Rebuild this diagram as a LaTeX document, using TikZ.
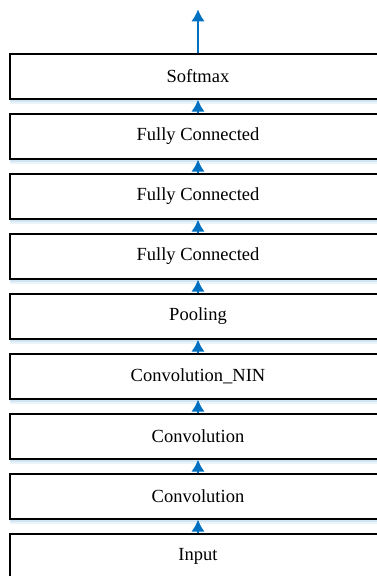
\documentclass[tikz,border=0pt]{standalone}
\usepackage{fontspec}
\setmainfont{Liberation Serif}
\usetikzlibrary{arrows.meta,calc,shadows}
\definecolor{arrowblue}{RGB}{0,112,192}
\tikzset{layerbox/.style={draw=black, fill=white, rectangle, line width=1.3pt, node distance=60pt, minimum width=376pt, minimum height=45pt, inner sep=0pt, text centered, font=\fontsize{18.5pt}{22pt}\selectfont, drop shadow={shadow xshift=0pt, shadow yshift=-5pt, fill=arrowblue!10, opacity=0.8}, drop shadow={shadow xshift=0pt, shadow yshift=-2.5pt, fill=arrowblue!20, opacity=0.8}}}
\tikzset{line/.style={draw=arrowblue, line width=2pt, -{Latex[length=12pt,width=13.5pt]}}}

\begin{document}
\begin{tikzpicture}
		\useasboundingbox (0,0) rectangle (377pt,-576pt);
		\node [layerbox] at (198pt,-556.5pt) (input) {Input};
		\node [layerbox, above of=input] (convA) {Convolution};
		\node [layerbox, above of=convA] (convB) {Convolution};
		\node [layerbox, above of=convB] (nin) {Convolution\_NIN};
		\node [layerbox, above of=nin] (pool) {Pooling};
		\node [layerbox, above of=pool] (fcA) {Fully Connected};
		\node [layerbox, above of=fcA] (fcB) {Fully Connected};
		\node [layerbox, above of=fcB] (fcC) {Fully Connected};
		\node [layerbox, above of=fcC] (softmax) {Softmax};
		
		\coordinate (out) at ($(softmax.north)+(0,44pt)$);
		
		\path [line] (input) -- (convA);
		\path [line] (convA) -- (convB);
		\path [line] (convB) -- (nin);
		\path [line] (nin) -- (pool);
		\path [line] (pool) -- (fcA);
		\path [line] (fcA) -- (fcB);
		\path [line] (fcB) -- (fcC);
		\path [line] (fcC) -- (softmax);
		\path [line] (softmax.north) -- (out);
		
		\end{tikzpicture}
\end{document}
